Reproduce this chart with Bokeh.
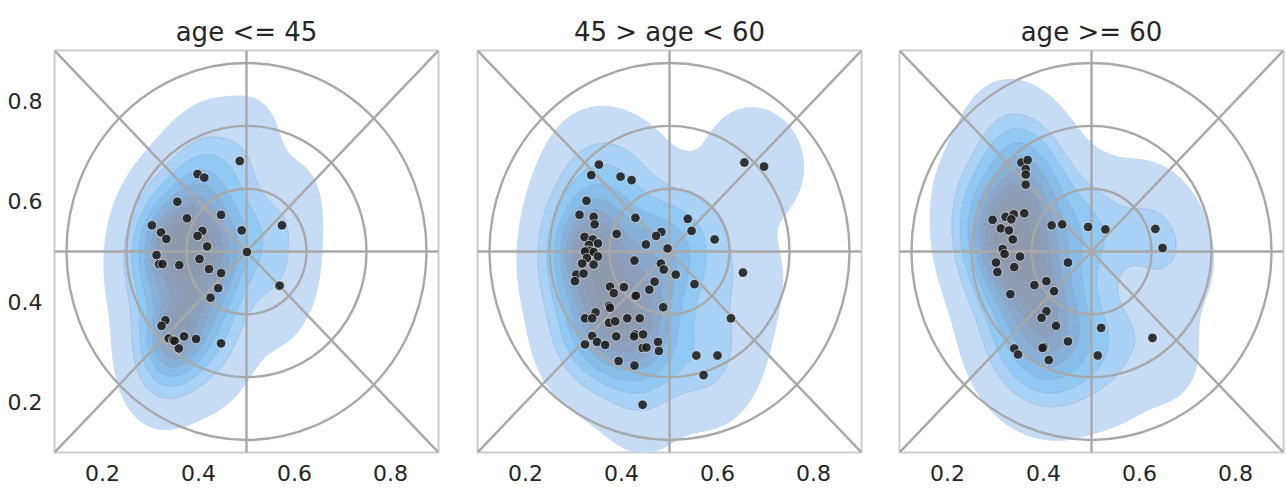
import numpy as np
from bokeh.plotting import figure
from bokeh.layouts import row
from bokeh.models import Range1d, FixedTicker
from bokeh.embed import file_html
from bokeh.resources import INLINE

# ---------------- data ----------------
titles = ["age <= 45", "45 > age < 60", "age >= 60"]

p1_x = [0.486, 0.398, 0.412, 0.356, 0.447, 0.376, 0.303, 0.322, 0.333, 0.408, 0.398, 0.490,
        0.574, 0.418, 0.501, 0.3125, 0.318, 0.325, 0.360, 0.402, 0.422, 0.447, 0.569, 0.441,
        0.425, 0.331, 0.323, 0.338, 0.347, 0.350, 0.370, 0.395, 0.359, 0.447]
p1_y = [0.680, 0.654, 0.647, 0.599, 0.573, 0.566, 0.552, 0.538, 0.525, 0.541, 0.531, 0.542,
        0.552, 0.510, 0.499, 0.493, 0.475, 0.475, 0.473, 0.485, 0.465, 0.457, 0.432, 0.427,
        0.408, 0.363, 0.352, 0.327, 0.324, 0.322, 0.331, 0.326, 0.307, 0.317]

p2_x = [0.353, 0.337, 0.398, 0.421, 0.656, 0.697, 0.327, 0.3125, 0.342, 0.344, 0.429, 0.538,
        0.546, 0.594, 0.483, 0.472, 0.390, 0.323, 0.340, 0.351, 0.332, 0.328, 0.335, 0.324,
        0.342, 0.351, 0.328, 0.318, 0.342, 0.451, 0.496, 0.427, 0.482, 0.488, 0.513, 0.653,
        0.306, 0.321, 0.303, 0.552, 0.469, 0.458, 0.376, 0.405, 0.384, 0.428, 0.430, 0.487,
        0.374, 0.376, 0.346, 0.324, 0.339, 0.412, 0.438, 0.374, 0.387, 0.628, 0.339, 0.389,
        0.428, 0.426, 0.445, 0.324, 0.349, 0.366, 0.444, 0.452, 0.476, 0.478, 0.556, 0.600,
        0.394, 0.427, 0.571, 0.444]
p2_y = [0.673, 0.652, 0.649, 0.642, 0.677, 0.669, 0.601, 0.573, 0.569, 0.554, 0.567, 0.565,
        0.541, 0.524, 0.539, 0.531, 0.535, 0.529, 0.524, 0.516, 0.513, 0.502, 0.501, 0.500,
        0.499, 0.490, 0.487, 0.476, 0.474, 0.514, 0.506, 0.482, 0.476, 0.464, 0.454, 0.458,
        0.454, 0.456, 0.441, 0.435, 0.440, 0.424, 0.430, 0.429, 0.417, 0.411, 0.412, 0.389,
        0.392, 0.388, 0.379, 0.367, 0.367, 0.367, 0.367, 0.358, 0.361, 0.367, 0.332, 0.331,
        0.335, 0.331, 0.335, 0.315, 0.320, 0.314, 0.308, 0.309, 0.320, 0.302, 0.293, 0.293,
        0.282, 0.273, 0.254, 0.195]

p3_x = [0.354, 0.367, 0.363, 0.363, 0.363, 0.294, 0.321, 0.338, 0.333, 0.360, 0.311, 0.328,
        0.336, 0.417, 0.439, 0.493, 0.529, 0.633, 0.648, 0.315, 0.319, 0.351, 0.301, 0.304,
        0.339, 0.451, 0.381, 0.406, 0.422, 0.331, 0.406, 0.396, 0.426, 0.520, 0.627, 0.451,
        0.400, 0.398, 0.339, 0.347, 0.411, 0.513]
p3_y = [0.677, 0.682, 0.664, 0.653, 0.633, 0.563, 0.569, 0.574, 0.564, 0.576, 0.546, 0.542,
        0.524, 0.552, 0.554, 0.549, 0.544, 0.545, 0.507, 0.505, 0.495, 0.490, 0.478, 0.459,
        0.469, 0.478, 0.433, 0.441, 0.421, 0.415, 0.381, 0.368, 0.352, 0.348, 0.328, 0.321,
        0.310, 0.308, 0.307, 0.295, 0.284, 0.293]

tick_values = [0.2, 0.4, 0.6, 0.8]
ring_radii = [0.125, 0.25, 0.375]

# ---------------- styles ----------------
FONT = "DejaVu Sans"
TEXT = "#262626"
band_colors = ["#c6dcf5", "#a9d2f6", "#91c9f5", "#88bdea", "#88b1da",
               "#8aa7ca", "#8ca0bd", "#8e9cb4", "#8f99ad"]
GUIDE = "#a8a8a8"
BW_ADJUST = 1.15
THRESH = 0.012


def kde_grid(xs, ys, gridsize=200, cut=3, adjust=1.0):
    xs = np.asarray(xs, float)
    ys = np.asarray(ys, float)
    data = np.vstack([xs, ys])
    n = data.shape[1]
    factor = n ** (-1.0 / 6.0) * adjust
    cov = np.cov(data) * factor ** 2
    inv = np.linalg.inv(cov)
    norm = 1.0 / (2 * np.pi * np.sqrt(np.linalg.det(cov)) * n)
    bw = np.sqrt(np.diag(cov))
    gx = np.linspace(xs.min() - cut * bw[0], xs.max() + cut * bw[0], gridsize)
    gy = np.linspace(ys.min() - cut * bw[1], ys.max() + cut * bw[1], gridsize)
    X, Y = np.meshgrid(gx, gy)
    dx = X[..., None] - xs
    dy = Y[..., None] - ys
    q = inv[0, 0] * dx * dx + 2 * inv[0, 1] * dx * dy + inv[1, 1] * dy * dy
    Z = norm * np.exp(-0.5 * q).sum(-1)
    return gx, gy, Z


def iso_levels(Z, thresh=0.05, nlev=10):
    iso = np.linspace(thresh, 1, nlev)
    vals = np.sort(Z.ravel())[::-1]
    cum = np.cumsum(vals) / vals.sum()
    idx = np.searchsorted(cum, 1 - iso)
    lv = np.take(vals, idx, mode="clip").astype(float)
    lv[-1] = Z.max() * 1.0001
    return list(lv)


def make_panel(title, xs, ys, idx):
    first, last = idx == 0, idx == 2
    p = figure(frame_width=384, frame_height=402,
               x_range=Range1d(0.1, 0.9), y_range=Range1d(0.1, 0.9),
               output_backend="svg", toolbar_location=None,
               min_border_left=[54, 20, 19][idx],
               min_border_right=[19, 19, 2][idx],
               min_border_top=50, min_border_bottom=36,
               background_fill_color="white", border_fill_color="white")
    p.title.text = title
    p.title.align = "center"
    p.title.text_font = FONT
    p.title.text_font_size = "26px"
    p.title.text_font_style = "normal"
    p.title.text_color = TEXT
    p.title.standoff = 8

    p.grid.visible = False
    p.outline_line_color = "#cccccc"
    p.outline_line_width = 2

    for ax in (p.xaxis[0], p.yaxis[0]):
        ax.ticker = FixedTicker(ticks=tick_values)
        ax.axis_line_color = None
        ax.major_tick_line_color = None
        ax.minor_tick_line_color = None
        ax.major_label_text_font = FONT
        ax.major_label_text_font_size = "22px"
        ax.major_label_text_color = TEXT
        ax.major_label_standoff = 6
    if not first:
        p.yaxis.visible = False

    # KDE filled contours
    gx, gy, Z = kde_grid(xs, ys, adjust=BW_ADJUST)
    levels = iso_levels(Z, thresh=THRESH)
    p.contour(x=gx, y=gy, z=Z, levels=levels,
              fill_color=band_colors, fill_alpha=1.0,
              line_color="#3f6f9c", line_width=0.8,
              line_alpha=[0.0] + [0.28] * (len(levels) - 1))

    # guide overlay (axes-centred target)
    x0, x1 = p.x_range.start, p.x_range.end
    y0, y1 = p.y_range.start, p.y_range.end
    cx, cy = (x0 + x1) / 2, (y0 + y1) / 2
    p.segment(x0=[x0, cx, x0, x0], y0=[cy, y0, y0, y1],
              x1=[x1, cx, x1, x1], y1=[cy, y1, y1, y0],
              line_color=GUIDE, line_width=2.4)
    p.ellipse(x=[cx] * len(ring_radii), y=[cy] * len(ring_radii),
              width=[2 * r for r in ring_radii], height=[2 * r for r in ring_radii],
              fill_color=None, line_color=GUIDE, line_width=2.4)

    p.scatter(x=xs, y=ys, size=9.5, fill_color="#1c1c1c", fill_alpha=0.88,
              line_color="white", line_width=0.6)
    return p


panels = [
    make_panel(titles[0], p1_x, p1_y, 0),
    make_panel(titles[1], p2_x, p2_y, 1),
    make_panel(titles[2], p3_x, p3_y, 2),
]

layout = row(*panels)
open("out.html", "w").write(file_html(layout, INLINE))
